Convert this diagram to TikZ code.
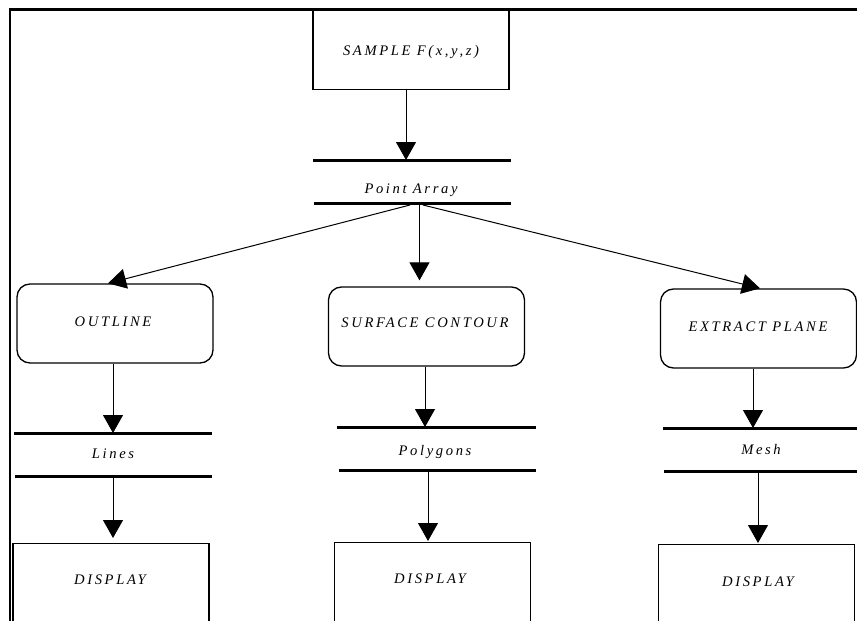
\documentclass[tikz,border=0pt]{standalone}
\usepackage{fontspec}
\setmainfont{Liberation Serif}
\newfontfamily\chartfont[LetterSpace=18]{Liberation Serif}
\usetikzlibrary{arrows.meta}
\tikzset{
  chart text/.style={font=\chartfont\itshape\fontsize{14.6}{17}\selectfont, inner sep=0pt},
  process/.style={draw, line width=1.3pt, rounded corners=13pt, minimum width=196pt, minimum height=79pt},
  plainbox/.style={draw, line width=1.3pt, minimum width=196pt},
  bar/.style={line width=3pt},
  frame/.style={line width=2.5pt},
  flow/.style={line width=1pt, -{Triangle[length=18pt, width=20pt]}},
}
\begin{document}
\begin{tikzpicture}[x=1pt, y=-1pt]
  \useasboundingbox (0,0) rectangle (857,621);
  \clip (0,0) rectangle (857,621);

  % page frame (top and left edges)
  \draw[frame] (10,621) -- (10,9.5) -- (857,9.5);

  % source
  \node[plainbox, minimum height=80pt] (sample) at (411,49.5) {};
  \node[chart text] (sampletext) at (411,52) {SAMPLE F(x,y,z)};

  % point array store
  \draw[bar] (313,160) -- (511,160);
  \draw[bar] (314,203) -- (511,203);
  \node[chart text] (pa) at (411,190) {Point Array};
  \coordinate (paIn) at (406,160);
  \coordinate (paOutL) at (410,205);
  \coordinate (paOutM) at (419.5,205);
  \coordinate (paOutR) at (423,205);

  % three processing branches
  \node[process] (outline) at (115,323.5) {};
  \node[process] (surface) at (426.5,326.5) {};
  \node[process] (extract) at (758.5,328.5) {};
  \node[chart text] (outlinetext) at (113,322) {OUTLINE};
  \node[chart text] (surfacetext) at (425,323) {SURFACE CONTOUR};
  \node[chart text] (extracttext) at (758,327) {EXTRACT PLANE};

  % output stores
  \draw[bar] (14,433) -- (212,433);
  \draw[bar] (15,476) -- (212,476);
  \node[chart text] (lines) at (113,454) {Lines};
  \coordinate (linesIn) at (113,433);
  \coordinate (linesOut) at (113,478);

  \draw[bar] (337,427) -- (536,427);
  \draw[bar] (339,470) -- (536,470);
  \node[chart text] (polys) at (435,452) {Polygons};
  \coordinate (polysIn) at (425,427);
  \coordinate (polysOut) at (428,472);

  \draw[bar] (663,428) -- (857,428);
  \draw[bar] (664,471) -- (857,471);
  \node[chart text] (mesh) at (761,450) {Mesh};
  \coordinate (meshIn) at (753,428);
  \coordinate (meshOut) at (758,473);

  % displays (run off the bottom edge)
  \node[plainbox, minimum height=110pt, anchor=north] (disp1) at (111,543) {};
  \node[plainbox, minimum height=110pt, anchor=north] (disp2) at (432.5,542) {};
  \node[plainbox, minimum height=110pt, anchor=north] (disp3) at (756.5,544) {};
  \node[chart text] (disp1text) at (110,580) {DISPLAY};
  \node[chart text] (disp2text) at (430,579) {DISPLAY};
  \node[chart text] (disp3text) at (758,582) {DISPLAY};

  % connectors
  \draw[flow] (sample.south -| paIn) -- (paIn);
  \draw[flow] (paOutL) -- ([xshift=-7pt]outline.north);
  \draw[flow] (paOutM) -- ([yshift=6pt]surface.north -| paOutM);
  \draw[flow] (paOutR) -- ([xshift=1.5pt]extract.north);

  \draw[flow] (outline.south -| linesIn) -- (linesIn);
  \draw[flow] (linesOut) -- ([yshift=5pt]disp1.north -| linesOut);
  \draw[flow] (surface.south -| polysIn) -- (polysIn);
  \draw[flow] (polysOut) -- ([yshift=1pt]disp2.north -| polysOut);
  \draw[flow] (extract.south -| meshIn) -- (meshIn);
  \draw[flow] (meshOut) -- ([yshift=1pt]disp3.north -| meshOut);
\end{tikzpicture}
\end{document}
